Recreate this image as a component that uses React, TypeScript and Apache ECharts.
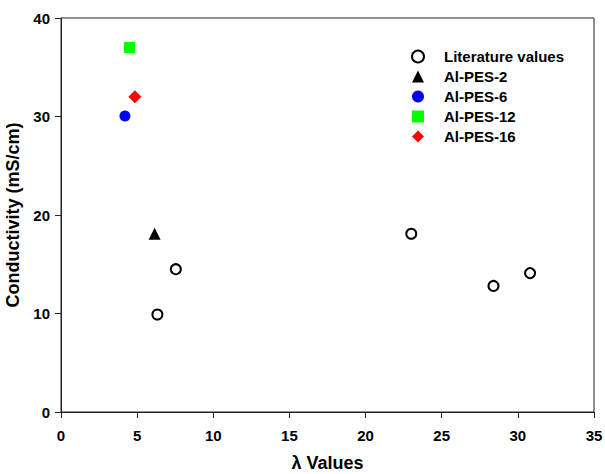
import React, { useEffect, useRef } from "react";
import * as echarts from "echarts";

const literatureValues: [number, number][] = [
  [6.33, 9.9],
  [7.54, 14.5],
  [23.0, 18.1],
  [28.4, 12.8],
  [30.8, 14.1],
];
const alPes2: [number, number][] = [[6.15, 18.1]];
const alPes6: [number, number][] = [[4.2, 30.05]];
const alPes12: [number, number][] = [[4.5, 37.0]];
const alPes16: [number, number][] = [[4.85, 32.0]];

const seriesNames = ["Literature values", "Al-PES-2", "Al-PES-6", "Al-PES-12", "Al-PES-16"];
const xTitle = "λ Values";
const yTitle = "Conductivity (mS/cm)";

const FONT = "'Liberation Sans', Arial, sans-serif";

export default function App() {
  const ref = useRef<HTMLDivElement>(null);
  useEffect(() => {
    if (!ref.current) return;
    const chart = echarts.init(ref.current, undefined, { renderer: "svg" });
    const axisCommon = {
      axisLine: { show: true, lineStyle: { color: "#222", width: 1 } },
      axisTick: { show: true, inside: false, length: 6, lineStyle: { color: "#222" } },
      splitLine: { show: false },
      axisLabel: { color: "#000", fontFamily: FONT, fontWeight: "bold" as const, fontSize: 15 },
      nameTextStyle: { color: "#000", fontFamily: FONT, fontWeight: "bold" as const, fontSize: 18 },
    };
    chart.setOption({
      animation: false,
      backgroundColor: "#fff",
      grid: {
        left: 61,
        right: 11,
        top: 18,
        bottom: 62,
        containLabel: false,
        outerBoundsMode: "none",
        show: true,
        borderColor: "#222",
        borderWidth: 1,
      },
      xAxis: {
        type: "value",
        min: 0,
        max: 35,
        interval: 5,
        name: xTitle,
        nameLocation: "middle",
        nameGap: 42,
        ...axisCommon,
        axisLabel: { ...axisCommon.axisLabel, margin: 16 },
      },
      yAxis: {
        type: "value",
        min: 0,
        max: 40,
        interval: 10,
        name: yTitle,
        nameLocation: "middle",
        nameGap: 34,
        ...axisCommon,
        axisLabel: { ...axisCommon.axisLabel, margin: 11 },
      },
      legend: {
        orient: "vertical",
        left: 411,
        top: 49,
        padding: 0,
        itemWidth: 12,
        itemHeight: 12,
        itemGap: 5,
        textStyle: {
          color: "#000",
          fontFamily: FONT,
          fontWeight: "bold",
          fontSize: 15,
          padding: [0, 0, 0, 15],
        },
        data: seriesNames,
      },
      series: [
        {
          name: seriesNames[0],
          type: "scatter",
          symbol: "circle",
          symbolSize: 10,
          data: literatureValues,
          itemStyle: { color: "#fff", borderColor: "#000", borderWidth: 2, opacity: 1 },
        },
        {
          name: seriesNames[1],
          type: "scatter",
          symbol: "triangle",
          symbolSize: 12,
          data: alPes2,
          itemStyle: { color: "#000", opacity: 1 },
        },
        {
          name: seriesNames[2],
          type: "scatter",
          symbol: "circle",
          symbolSize: 11,
          data: alPes6,
          itemStyle: { color: "#0000ff", opacity: 1 },
        },
        {
          name: seriesNames[3],
          type: "scatter",
          symbol: "rect",
          symbolSize: 11,
          data: alPes12,
          itemStyle: { color: "#00ff00", opacity: 1 },
        },
        {
          name: seriesNames[4],
          type: "scatter",
          symbol: "diamond",
          symbolSize: 13,
          data: alPes16,
          itemStyle: { color: "#ff0000", opacity: 1 },
        },
      ],
    });
    return () => chart.dispose();
  }, []);
  return <div ref={ref} style={{ width: 605, height: 474, position: "absolute", left: 0, top: 0 }} />;
}
